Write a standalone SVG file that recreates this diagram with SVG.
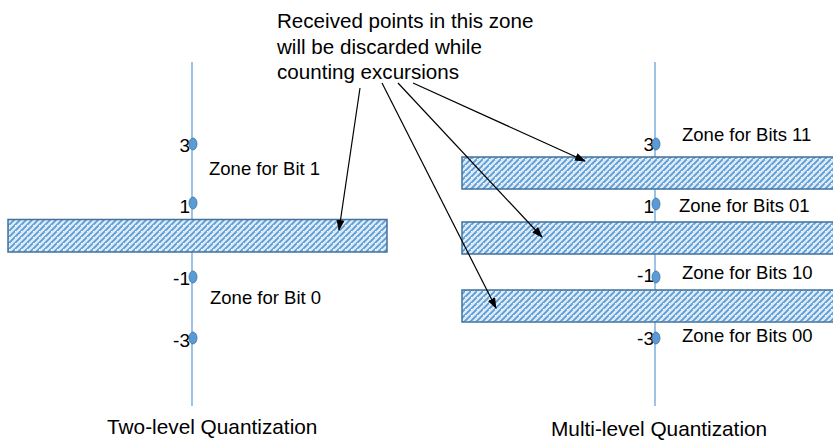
<svg xmlns="http://www.w3.org/2000/svg" width="833" height="442" viewBox="0 0 833 442">
<style>
text{font-family:"Liberation Sans",Arial,sans-serif;fill:#000}
.big{font-size:20.6px}
.cap{font-size:20.8px}
.lbl{font-size:18.5px}
.num{font-size:19px;text-anchor:end}
.axis{stroke:#5B9BD5;stroke-width:1.2;fill:none}
.band{fill:url(#hatch);stroke:#41719C;stroke-width:1.5}
.dot{fill:#5B9BD5;stroke:#41719C;stroke-width:0.8}
.arr{stroke:#000;stroke-width:1.2;fill:none;marker-end:url(#ah)}
</style>
<defs>
<pattern id="hatch" width="6" height="6" patternUnits="userSpaceOnUse">
<rect width="6" height="6" fill="#DDEBF7"/>
<path d="M-1,7 L7,-1 M-1,1 L1,-1 M5,7 L7,5" stroke="#5B9BD5" stroke-width="1.8"/>
<rect x="3" y="3" width="1" height="1" fill="#FFFFFF"/>
</pattern>
<marker id="ah" markerUnits="userSpaceOnUse" markerWidth="11" markerHeight="8" refX="10" refY="4" orient="auto">
<path d="M0,0 L11,4 L0,8 z" fill="#000"/>
</marker>
</defs>
<g id="left-axis">
<line class="axis" x1="192" y1="62" x2="192" y2="406"/>
</g>
<g id="right-axis">
<line class="axis" x1="655" y1="62" x2="655" y2="406"/>
</g>
<g id="left-band"><rect class="band" x="8" y="219.5" width="379" height="32.5"/></g>
<g id="right-band-1"><rect class="band" x="462" y="157" width="380" height="32"/></g>
<g id="right-band-2"><rect class="band" x="462" y="222" width="380" height="32"/></g>
<g id="right-band-3"><rect class="band" x="462" y="290" width="380" height="32"/></g>
<g id="left-levels">
<text class="num" x="190" y="152">3</text>
<ellipse class="dot" cx="193" cy="144" rx="4" ry="6"/>
<text class="num" x="190" y="213">1</text>
<ellipse class="dot" cx="193" cy="203" rx="4" ry="6"/>
<text class="num" x="190" y="285">-1</text>
<ellipse class="dot" cx="193" cy="277" rx="4" ry="6"/>
<text class="num" x="190" y="347">-3</text>
<ellipse class="dot" cx="193" cy="338" rx="4" ry="6"/>
</g>
<g id="right-levels">
<text class="num" x="654" y="151">3</text>
<ellipse class="dot" cx="656" cy="144" rx="4" ry="6"/>
<text class="num" x="654" y="213">1</text>
<ellipse class="dot" cx="656" cy="204" rx="4" ry="6"/>
<text class="num" x="654" y="282">-1</text>
<ellipse class="dot" cx="656" cy="277" rx="4" ry="6"/>
<text class="num" x="654" y="345">-3</text>
<ellipse class="dot" cx="656" cy="338" rx="4" ry="6"/>
</g>
<g id="left-zone-labels">
<text class="lbl" x="209" y="175">Zone for Bit 1</text>
<text class="lbl" x="210" y="304">Zone for Bit 0</text>
</g>
<g id="right-zone-labels">
<text class="lbl" x="682" y="141">Zone for Bits 11</text>
<text class="lbl" x="679" y="212">Zone for Bits 01</text>
<text class="lbl" x="682" y="279">Zone for Bits 10</text>
<text class="lbl" x="682" y="342">Zone for Bits 00</text>
</g>
<g id="note">
<text class="big" x="277" y="28">Received points in this zone</text>
<text class="big" x="277" y="54">will be discarded while</text>
<text class="big" x="277" y="79">counting excursions</text>
</g>
<g id="connectors">
<line class="arr" x1="360" y1="88" x2="339" y2="230"/>
<line class="arr" x1="382" y1="83" x2="496" y2="308"/>
<line class="arr" x1="398" y1="83" x2="542" y2="237"/>
<line class="arr" x1="413" y1="83" x2="585" y2="161"/>
</g>
<g id="captions">
<text class="cap" x="107" y="434">Two-level Quantization</text>
<text class="cap" x="551" y="436">Multi-level Quantization</text>
</g>
</svg>
